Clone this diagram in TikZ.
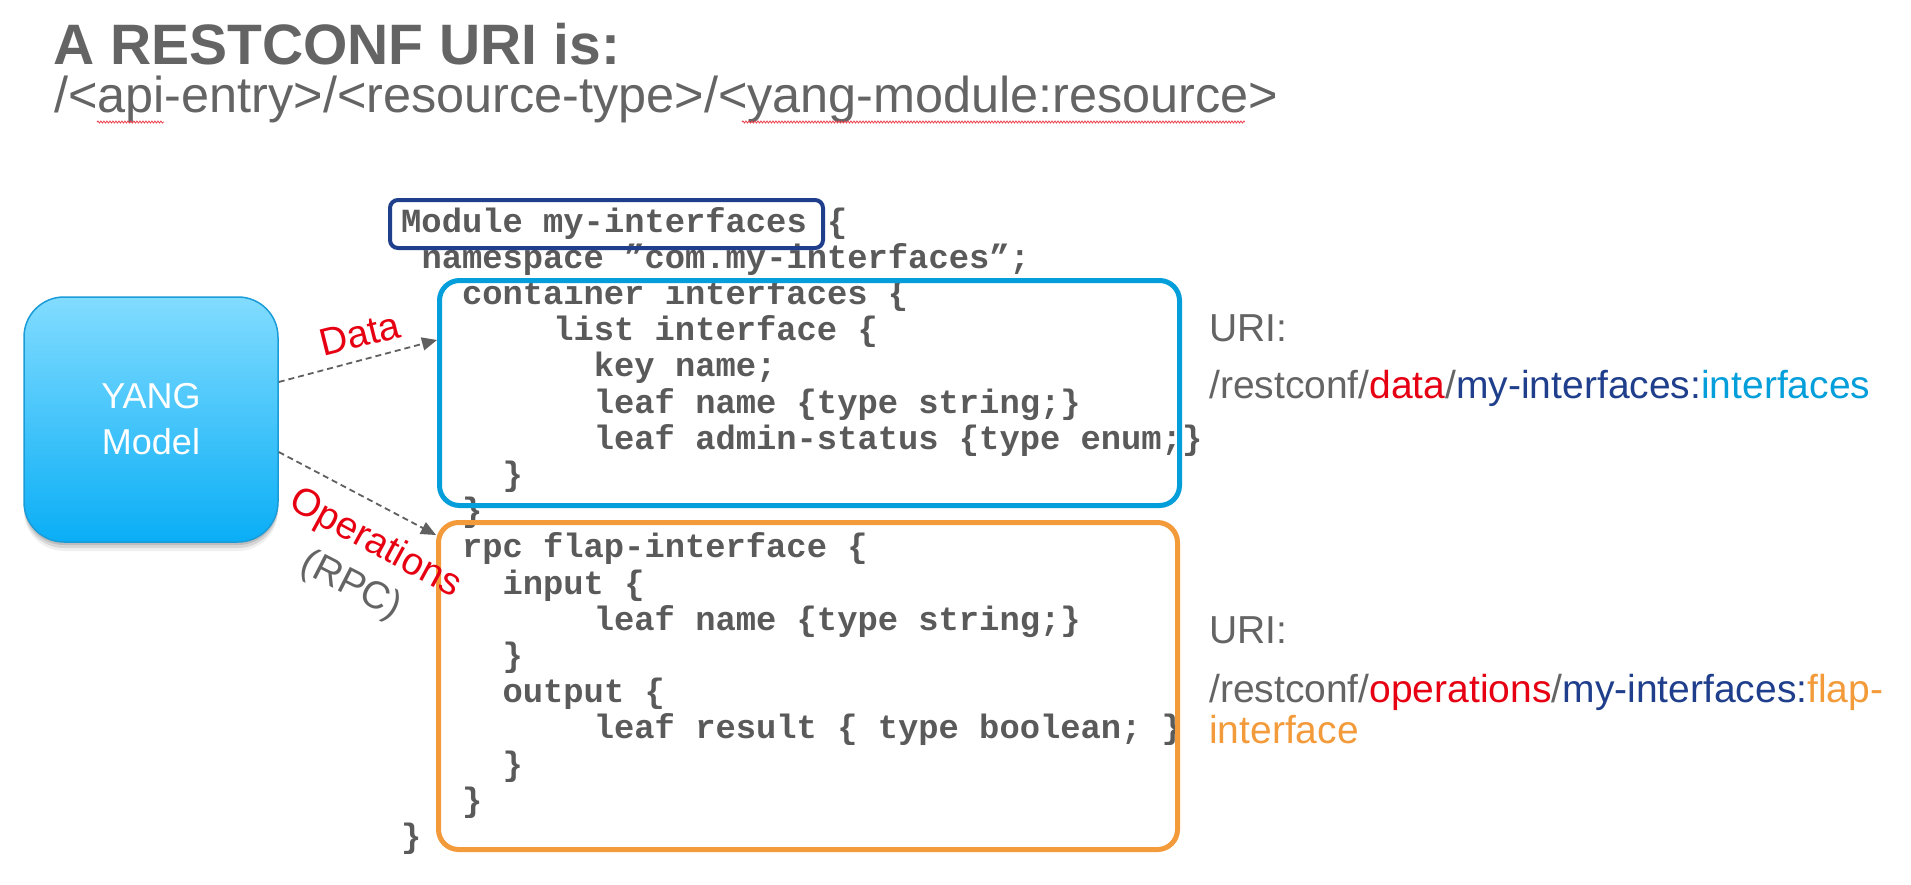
\documentclass[tikz,border=0pt]{standalone}
\usepackage{fontspec}
\setmainfont{Liberation Sans}
\newfontfamily\codefont{Liberation Mono}
\usetikzlibrary{shadows,decorations.pathmorphing,arrows.meta}

\definecolor{tgray}{HTML}{646464}
\definecolor{cgray}{HTML}{5A5A5A}
\definecolor{agray}{HTML}{606060}
\definecolor{rred}{HTML}{E60012}
\definecolor{navyb}{HTML}{1F3E8C}
\definecolor{skyb}{HTML}{049FDB}
\definecolor{orng}{HTML}{F39B3A}
\definecolor{yangtop}{HTML}{82DCFF}
\definecolor{yangbot}{HTML}{0AAEF6}
\definecolor{yangedge}{HTML}{1B9CD8}

\begin{document}
\begin{tikzpicture}[x=1pt,y=-1pt,
  code/.style={anchor=base west, inner sep=0pt, text=cgray,
    font=\codefont\bfseries\fontsize{33.8}{36}\selectfont},
  uri/.style={anchor=base west, inner sep=0pt, text=tgray,
    font=\fontsize{39}{42}\selectfont},
  conn/.style={draw=agray, line width=1.8pt, dash pattern=on 6pt off 4pt,
    -{Triangle[length=15pt,width=13pt]}},
  lbl/.style={inner sep=0pt, font=\fontsize{38.5}{40}\selectfont},
  squiggle/.style={draw=rred!75, line width=0.8pt, decorate,
    decoration={snake, amplitude=1pt, segment length=3pt}}]

\fill[white] (0,0) rectangle (1911,884);
\useasboundingbox (0,0) rectangle (1911,884);

% heading
\node[anchor=base west, inner sep=0pt, text=tgray,
  font=\bfseries\fontsize{57}{60}\selectfont] (title) at (53,64) {A RESTCONF URI is:};
\node[anchor=base west, inner sep=0pt, text=tgray,
  font=\fontsize{50.4}{56}\selectfont] (pattern) at (54,112)
  {/<api-entry>/<resource-type>/<yang-module:resource>};
\draw[squiggle] (97,122) -- (164,122);
\draw[squiggle] (742,122) -- (1245,122);

% YANG module source
\node[code] (l1)  at (401.0,232.0) {Module my-interfaces \{};
\node[code] (l2)  at (421.3,268.2) {namespace ”com.my-interfaces”;};
\node[code] (l3)  at (461.8,304.4) {container interfaces \{};
\node[code] (l4)  at (553.1,340.6) {list interface \{};
\node[code] (l5)  at (593.7,376.8) {key name;};
\node[code] (l6)  at (593.7,413.0) {leaf name \{type string;\}};
\node[code] (l7)  at (593.7,449.2) {leaf admin-status \{type enum;\}};
\node[code] (l8)  at (502.4,485.4) {\}};
\node[code] (l9)  at (461.8,521.6) {\}};
\node[code] (l10) at (461.8,557.8) {rpc flap-interface \{};
\node[code] (l11) at (502.4,594.0) {input \{};
\node[code] (l12) at (593.7,630.2) {leaf name \{type string;\}};
\node[code] (l13) at (502.4,666.4) {\}};
\node[code] (l14) at (502.4,702.6) {output \{};
\node[code] (l15) at (593.7,738.8) {leaf result \{ type boolean; \}};
\node[code] (l16) at (502.4,775.0) {\}};
\node[code] (l17) at (461.8,811.2) {\}};
\node[code] (l18) at (401.0,847.4) {\}};

% highlight frames
\node[draw=navyb, line width=4pt, rounded corners=8pt, inner sep=0pt,
  minimum width=433pt, minimum height=48pt] (modbox) at (606.5,224) {};
\node[draw=skyb, line width=5pt, rounded corners=20pt, inner sep=0pt,
  minimum width=740pt, minimum height=225pt] (databox) at (809.5,393) {};
\node[draw=orng, line width=5pt, rounded corners=20pt, inner sep=0pt,
  minimum width=739pt, minimum height=327pt] (opsbox) at (808,686) {};

% YANG model block with a soft shadow underneath
\node[draw=yangedge, line width=1.5pt, rounded corners=40pt,
  top color=yangtop, bottom color=yangbot,
  general shadow={shadow yshift=-3pt, opacity=0.12, fill=black},
  general shadow={shadow yshift=-6pt, opacity=0.10, fill=black},
  general shadow={shadow yshift=-9pt, opacity=0.06, fill=black},
  minimum width=254pt, minimum height=245pt, inner sep=0pt,
  text=white, align=center, font=\fontsize{36}{46}\selectfont] (yang) at (151,419.5)
  {YANG\\Model};

% connectors
\draw[conn] ([yshift=37.5pt]yang.east) -- ([yshift=53pt]databox.west);
\draw[conn] ([yshift=-32.5pt]yang.east) -- ([yshift=-15pt]opsbox.north west);

\node[lbl, text=rred, rotate=14] (datalbl) at (360,334) {Data};
\node[lbl, text=rred, rotate=-28.5] (opslbl) at (375,544) {Operations};
\node[lbl, text=tgray, rotate=-27] (rpclbl) at (351,586) {(RPC)};

% resulting URIs
\node[uri] (uri1) at (1209,341) {URI:};
\node[uri] (path1) at (1209,398)
  {/restconf/\textcolor{rred}{data}/\textcolor{navyb}{my-interfaces:}\textcolor{skyb}{interfaces}};
\node[uri] (uri2) at (1209,643) {URI:};
\node[uri] (path2) at (1209,702)
  {/restconf/\textcolor{rred}{operations}/\textcolor{navyb}{my-interfaces:}\textcolor{orng}{flap-}};
\node[uri, text=orng] (path2b) at (1209,743) {interface};

\end{tikzpicture}
\end{document}
